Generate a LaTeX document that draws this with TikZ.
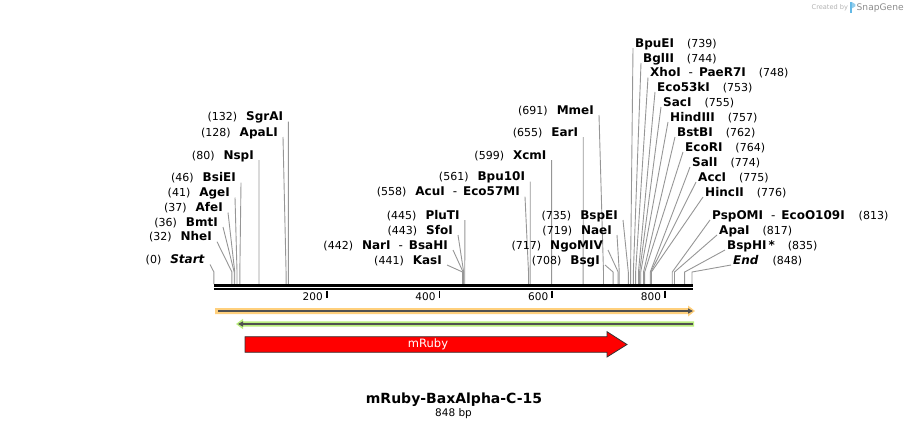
\documentclass[tikz,border=0pt]{standalone}
\usepackage{fontspec}
\setmainfont{DejaVu Sans}
\usetikzlibrary{positioning}
\usetikzlibrary{arrows.meta}

\definecolor{cutgray}{RGB}{150,150,150}
\definecolor{orfyellow}{RGB}{255,208,125}
\definecolor{orfgreen}{RGB}{185,238,125}
\definecolor{orfline}{RGB}{80,80,80}
\definecolor{featred}{RGB}{255,0,0}
\definecolor{logoblue}{RGB}{100,185,230}

\newcommand\bpnum[1]{{\fontsize{11}{13}\selectfont\mdseries(#1)}}
\newcommand\bpx[1]{213.9+0.5638*#1}
\newcommand\alsocut{\hspace{8pt}{\mdseries -}\hspace{6pt}}

\tikzset{
  enz/.style={inner sep=0pt, font=\fontsize{12}{14}\selectfont\bfseries},
  cutline/.style={draw=cutgray, line width=0.9pt},
  ticklbl/.style={anchor=base, inner sep=0pt, font=\fontsize{10.5}{12}\selectfont},
  orfarrow/.style={draw=orfline, line width=1.3pt},
}

\begin{document}
\begin{tikzpicture}[x=1pt, y=-1pt]
  \useasboundingbox (0,0) rectangle (909,429);

  % sites left of the cut line
  \foreach \bp/\yy/\xx/\nm/\txt in {
      0/259.5/205/Start/{\bpnum{0}\hspace{9pt}\textit{Start}},
      32/236.7/212/NheI/{\bpnum{32}\hspace{9pt}NheI},
      36/222/218/BmtI/{\bpnum{36}\hspace{9pt}BmtI},
      37/207.5/223/AfeI/{\bpnum{37}\hspace{9pt}AfeI},
      41/192.5/230/AgeI/{\bpnum{41}\hspace{9pt}AgeI},
      46/177.7/236/BsiEI/{\bpnum{46}\hspace{9pt}BsiEI},
      80/155/254/NspI/{\bpnum{80}\hspace{9pt}NspI},
      128/132/278/ApaLI/{\bpnum{128}\hspace{9pt}ApaLI},
      132/116.7/283.3/SgrAI/{\bpnum{132}\hspace{9pt}SgrAI},
      441/260/442/KasI/{\bpnum{441}\hspace{9pt}KasI},
      442/245/448/NarI/{\bpnum{442}\hspace{9pt}NarI\alsocut BsaHI},
      443/230/453/SfoI/{\bpnum{443}\hspace{9pt}SfoI},
      445/215/459.8/PluTI/{\bpnum{445}\hspace{9pt}PluTI},
      558/191.7/520/AcuI/{\bpnum{558}\hspace{9pt}AcuI\alsocut Eco57MI},
      561/176.7/525.2/Bpu10I/{\bpnum{561}\hspace{9pt}Bpu10I},
      599/155/546.6/XcmI/{\bpnum{599}\hspace{9pt}XcmI},
      655/132/578.2/EarI/{\bpnum{655}\hspace{9pt}EarI},
      691/110/594/MmeI/{\bpnum{691}\hspace{9pt}MmeI},
      708/260/600/BsgI/{\bpnum{708}\hspace{9pt}BsgI},
      717/245/603/NgoMIV/{\bpnum{717}\hspace{9pt}NgoMIV},
      719/230/612/NaeI/{\bpnum{719}\hspace{9pt}NaeI},
      735/215/618/BspEI/{\bpnum{735}\hspace{9pt}BspEI}} {
    \node[enz, anchor=base east] (e-\nm) at (\xx,\yy+4) {\txt};
    \coordinate (k-\nm) at ({\bpx{\bp}},272);
    \coordinate (c-\nm) at ({\bpx{\bp}},284);
    \draw[cutline] ([xshift=5pt,yshift=-1pt]e-\nm.base east) -- (k-\nm) -- (c-\nm);
  }

  % sites right of the cut line
  \foreach \bp/\yy/\xx/\nm/\txt in {
      739/43/635/BpuEI/{BpuEI\hspace{13pt}\bpnum{739}},
      744/58/643/BglII/{BglII\hspace{13pt}\bpnum{744}},
      748/72.5/650/XhoI/{XhoI\alsocut PaeR7I\hspace{13pt}\bpnum{748}},
      753/87/657/Eco53kI/{Eco53kI\hspace{13pt}\bpnum{753}},
      755/102/663/SacI/{SacI\hspace{13pt}\bpnum{755}},
      757/117/670/HindIII/{HindIII\hspace{13pt}\bpnum{757}},
      762/132/677/BstBI/{BstBI\hspace{13pt}\bpnum{762}},
      764/147/685/EcoRI/{EcoRI\hspace{13pt}\bpnum{764}},
      774/162/692/SalI/{SalI\hspace{13pt}\bpnum{774}},
      775/177/698/AccI/{AccI\hspace{13pt}\bpnum{775}},
      776/192/705/HincII/{HincII\hspace{13pt}\bpnum{776}},
      813/215/712/PspOMI/{PspOMI\alsocut EcoO109I\hspace{14pt}\bpnum{813}},
      817/230/719/ApaI/{ApaI\hspace{13pt}\bpnum{817}},
      835/245/727/BspHI/{BspHI\hspace{2pt}*\hspace{13pt}\bpnum{835}},
      848/260/733/End/{\textit{End}\hspace{14pt}\bpnum{848}}} {
    \node[enz, anchor=base west] (e-\nm) at (\xx,\yy+4) {\txt};
    \coordinate (k-\nm) at ({\bpx{\bp}},272);
    \coordinate (c-\nm) at ({\bpx{\bp}},284);
    \draw[cutline] ([xshift=-2pt,yshift=-1pt]e-\nm.base west) -- (k-\nm) -- (c-\nm);
  }

  % double strand ruler
  \coordinate (r0) at (213.9,285.3);
  \coordinate (r1) at (693,285.3);
  \draw[line width=2.6pt] (r0) -- (r1);
  \draw[line width=2.2pt] ([yshift=-3.9pt]r0) -- ([yshift=-3.9pt]r1);
  \foreach \t in {200,400,600,800} {
    \coordinate (t\t) at ({\bpx{\t}},290.5);
    \draw[line width=1.8pt] (t\t) -- ++(0,7);
    \node[ticklbl] (tl\t) at ({\bpx{\t}-14},300.7) {\t};
  }

  % open reading frames
  \fill[orfyellow] (215,308) -- (688,308) -- (688,305.5) -- (695,311) -- (688,316.5) -- (688,314) -- (215,314) -- cycle;
  \draw[orfarrow, -{Triangle[length=5pt,width=5pt]}] (218,311) -- (693,311);
  \fill[orfgreen] (694,321.3) -- (243,321.3) -- (243,318.8) -- (236,324) -- (243,329.2) -- (243,326.7) -- (694,326.7) -- cycle;
  \draw[orfarrow, -{Triangle[length=5pt,width=5pt]}] (692.5,324) -- (238,324);

  % feature
  \draw[fill=featred, draw=black!80, line width=0.8pt]
    (245,336.7) -- (607,336.7) -- (607,331.7) -- (627,344.5) -- (607,357) -- (607,352.3) -- (245,352.3) -- cycle;
  \node[text=white, inner sep=0pt, font=\fontsize{11.5}{13}\selectfont] (mruby) at (428,344) {mRuby};

  % title
  \node[anchor=base, inner sep=0pt, font=\fontsize{14}{16}\selectfont\bfseries] (title) at (454,403) {mRuby-BaxAlpha-C-15};
  \node[anchor=base, inner sep=0pt, font=\fontsize{10.5}{12}\selectfont] (len) at (453.5,416) {848 bp};

  % credit
  \node[anchor=base west, inner sep=0pt, text=black!30, font=\fontsize{6.6}{8}\selectfont] (credit) at (811.5,9.8) {Created by};
  \fill[logoblue] (849.5,2) rectangle (851.8,12.5);
  \fill[logoblue!70] (851.8,2) -- (855.3,4.2) -- (855.3,6.3) -- (851.8,8.5) -- cycle;
  \node[anchor=base west, inner sep=0pt, text=black!45, font=\fontsize{9.1}{10}\selectfont] (brand) at (856.5,10.6) {SnapGene};
\end{tikzpicture}
\end{document}
